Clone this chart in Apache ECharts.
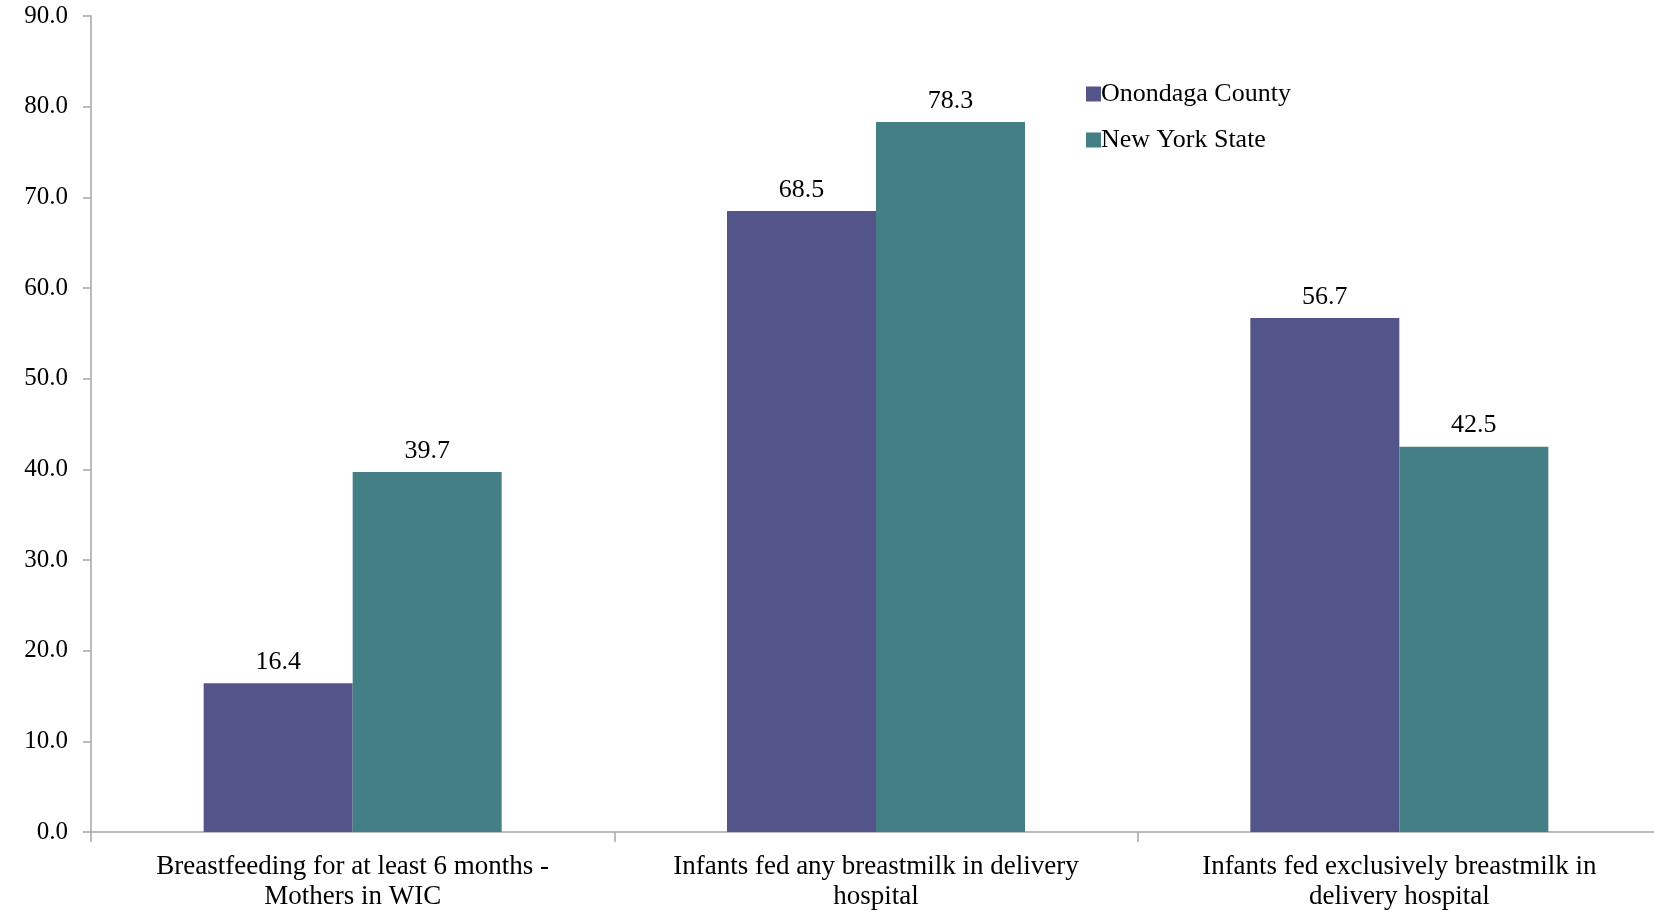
<!DOCTYPE html>
<html>
<head>
<meta charset="utf-8">
<script src="https://cdn.jsdelivr.net/npm/echarts@6/dist/echarts.min.js"></script>
<style>
  html, body { margin: 0; padding: 0; background: #ffffff; }
  #chart { width: 1654px; height: 910px; }
</style>
</head>
<body>
<div id="chart"></div>
<script>
// Breastfeeding indicators: Onondaga County vs New York State (%)
const categories = [
  'Breastfeeding for at least 6 months -\nMothers in WIC',
  'Infants fed any breastmilk in delivery\nhospital',
  'Infants fed exclusively breastmilk in\ndelivery hospital'
];
const onondaga = [16.4, 68.5, 56.7];
const newYorkState = [39.7, 78.3, 42.5];
const seriesNames = ['Onondaga County', 'New York State'];

const FONT = '"Liberation Serif", "DejaVu Serif", serif';
const AXIS_GRAY = '#a6a6a6';

const chart = echarts.init(document.getElementById('chart'), null, { renderer: 'canvas' });

const labelStyle = {
  show: true,
  position: 'top',
  distance: 8,
  fontFamily: FONT,
  fontSize: 26,
  color: '#000000',
  formatter: p => p.value.toFixed(1)
};

chart.setOption({
  animation: false,
  backgroundColor: '#ffffff',
  grid: {
    left: 91, width: 1570, top: 16, bottom: 78,
    containLabel: false,
    outerBoundsMode: 'none'
  },
  legend: {
    orient: 'vertical',
    left: 1081,
    top: 76,
    itemWidth: 15,
    itemHeight: 15,
    itemGap: 20,
    icon: 'rect',
    textStyle: { fontFamily: FONT, fontSize: 26, color: '#000000', padding: [0, 0, 0, -5] },
    data: seriesNames
  },
  xAxis: {
    type: 'category',
    data: categories,
    axisLine: { lineStyle: { color: AXIS_GRAY, width: 1.5 } },
    axisTick: { show: true, length: 10, alignWithLabel: false, lineStyle: { color: AXIS_GRAY, width: 1.5 } },
    axisLabel: {
      interval: 0,
      margin: 20,
      fontFamily: FONT,
      fontSize: 27,
      lineHeight: 30,
      color: '#000000',
      align: 'center'
    }
  },
  yAxis: {
    type: 'value',
    min: 0,
    max: 90,
    interval: 10,
    axisLine: { show: true, lineStyle: { color: AXIS_GRAY, width: 1.5 } },
    axisTick: { show: true, inside: false, length: 8, lineStyle: { color: AXIS_GRAY, width: 1.5 } },
    splitLine: { show: false },
    axisLabel: {
      margin: 23,
      fontFamily: FONT,
      fontSize: 25,
      color: '#000000',
      formatter: v => v.toFixed(1)
    }
  },
  series: [
    {
      name: seriesNames[0],
      type: 'bar',
      data: onondaga,
      barWidth: 149,
      barGap: '0%',
      itemStyle: { color: '#53548a' },
      label: labelStyle
    },
    {
      name: seriesNames[1],
      type: 'bar',
      data: newYorkState,
      barWidth: 149,
      barGap: '0%',
      itemStyle: { color: '#437f84' },
      label: labelStyle
    }
  ]
});
</script>
</body>
</html>
